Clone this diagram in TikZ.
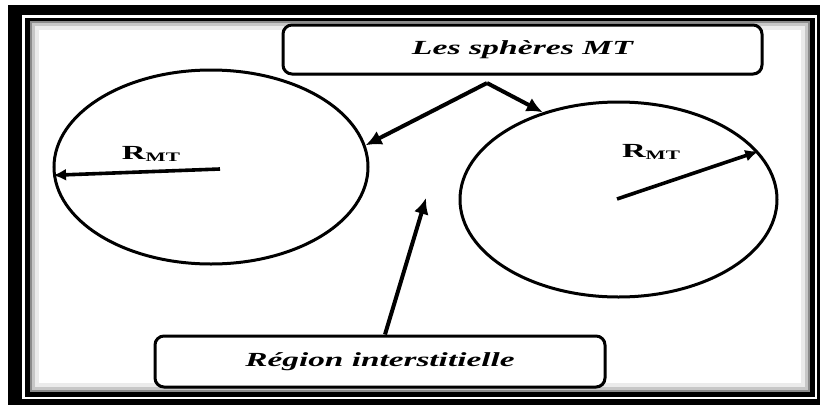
\documentclass[tikz,border=0pt]{standalone}
\usepackage{fontspec}
\setmainfont{Liberation Serif}
\usetikzlibrary{shapes.geometric,arrows.meta,shadows}
\tikzset{
  sphere/.style={draw, ellipse, line width=3pt, inner sep=0pt},
  labelbox/.style={draw, rounded corners=9pt, line width=3pt, fill=white,
    drop shadow={shadow xshift=1pt, shadow yshift=-1.5pt, opacity=0.35}},
  bigarrow/.style={line width=4pt, -{Latex[length=16pt,width=15pt]}},
  radarrow/.style={line width=3.6pt, -{Latex[length=13pt,width=12pt]}},
  rlabel/.style={inner sep=0pt, font=\bfseries}
}
\newcommand{\rmtlabel}{\resizebox{58pt}{\height}{\fontsize{20}{20}\selectfont\bfseries R\raisebox{-2pt}{\fontsize{13}{13}\selectfont MT}}}
\begin{document}
\begin{tikzpicture}[x=1pt,y=-1pt]
  % background and bounding box
  \fill[white] (0,0) rectangle (823,405);
  \useasboundingbox (0,0) rectangle (823,405);
  % double frame
  \fill[black] (8,5) rectangle (820,405);
  \fill[white] (22,15) rectangle (817,399);
  \fill[black] (25,18) rectangle (815,397);
  \fill[white] (30,21) rectangle (810,392);
  \draw[black!45, line width=2pt] (31,22) rectangle (809,391);
  \draw[black!22, line width=3pt] (33.5,24.5) rectangle (806.5,388.5);
  \draw[black!8, line width=4pt] (37,28) rectangle (803,385);

  % spheres
  \node[sphere, minimum width=314pt, minimum height=194pt] (L) at (211,167) {};
  \node[sphere, minimum width=317pt, minimum height=195pt] (R) at (618.5,199.5) {};

  % label boxes
  \node[labelbox, minimum width=479pt, minimum height=49pt] (top) at (522.5,49.5)
    {\resizebox{221pt}{\height}{\fontsize{20}{20}\selectfont\bfseries\itshape Les sphères MT}};
  \node[labelbox, minimum width=450pt, minimum height=51pt] (bot) at (380,361.5)
    {\resizebox{269pt}{\height}{\fontsize{20}{20}\selectfont\bfseries\itshape Région interstitielle}};

  % radius labels
  \node[rlabel] (lr) at (151,154) {\rmtlabel};
  \node[rlabel] (rr) at (651,152) {\rmtlabel};

  % radius arrows
  \coordinate (lc) at (220,169);
  \draw[radarrow] (lc) -- (L.183);
  \coordinate (rc) at (617,199);
  \draw[radarrow] (rc) -- (R.19);

  % arrows from the top box
  \coordinate (apex) at (487,83);
  \draw[bigarrow, line join=miter] (apex) -- (L.8);
  \draw[bigarrow] (apex) -- (R.131);

  % arrow from the bottom box
  \coordinate (gap) at (426,198);
  \draw[bigarrow] (bot.north) ++(5,0) coordinate (bs) -- (gap);
\end{tikzpicture}
\end{document}
